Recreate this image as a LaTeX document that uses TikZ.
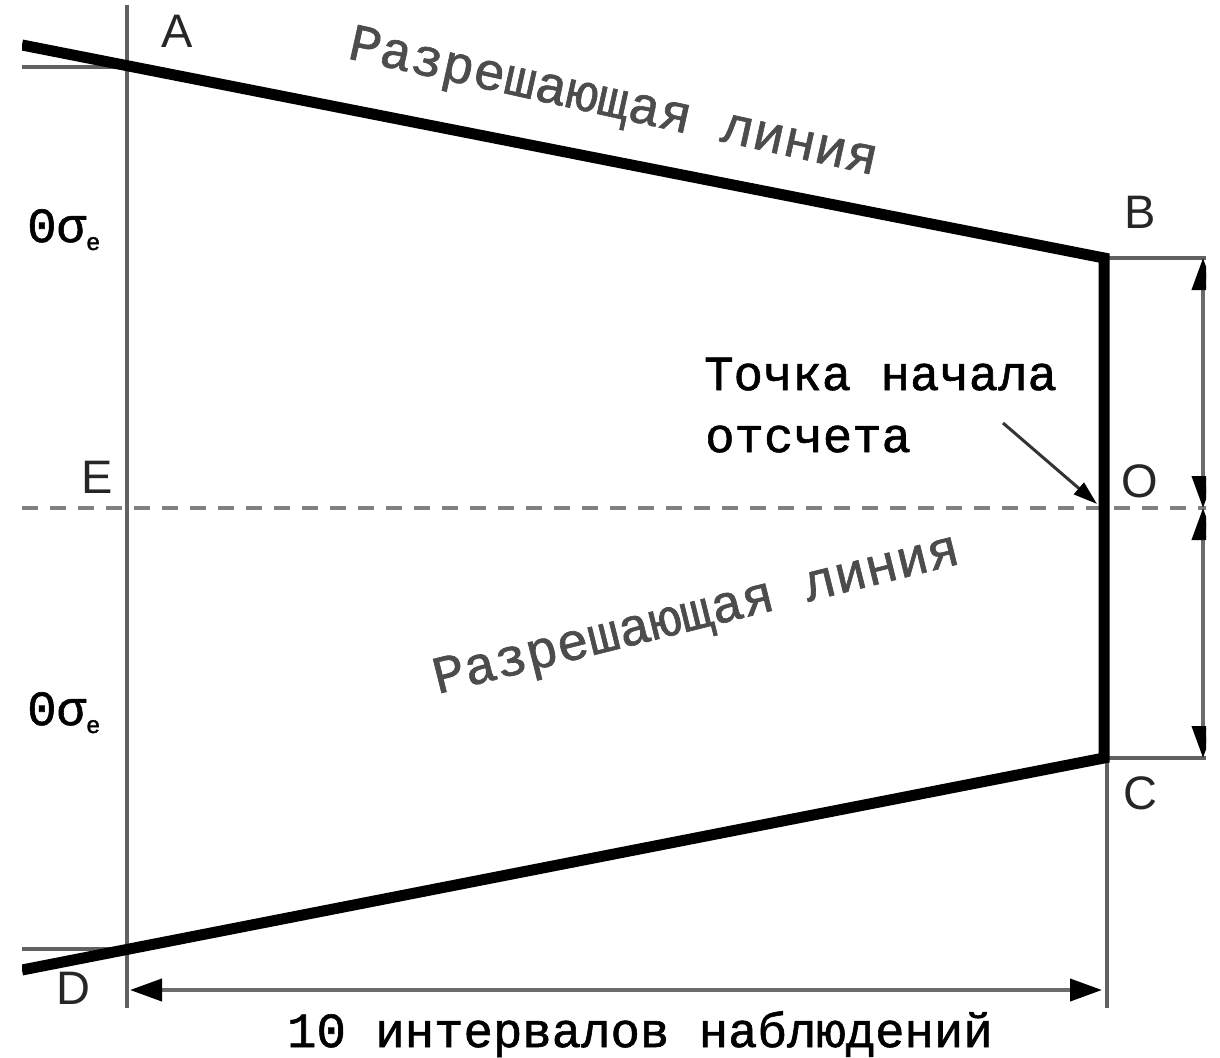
\documentclass[tikz,border=0pt]{standalone}
\usepackage{fontspec}
\newfontfamily\monof[FakeBold=1.2]{Liberation Mono}
\newfontfamily\sansf{Liberation Sans}
\usetikzlibrary{arrows.meta}
\begin{document}
\begin{tikzpicture}[x=1pt,y=-1pt,
  thingray/.style={draw=black!62, line width=3.5pt},
  thickblack/.style={draw=black, line width=11pt, line join=miter},
  lbl/.style={font=\sansf\fontsize{47}{47}\selectfont, text=black!85, inner sep=0pt},
  mono/.style={font=\monof\fontsize{49}{58}\selectfont, inner sep=0pt},
  slanttext/.style={font=\monof\fontsize{53}{60}\selectfont, inner sep=0pt, text=black!70},
  dimarrow/.style={draw=black!58, line width=4pt, {Triangle[length=32pt,width=22pt,color=black]}-{Triangle[length=32pt,width=22pt,color=black]}},
  dashline/.style={draw=black!50, line width=4pt, dash pattern=on 16pt off 12pt}
]
\useasboundingbox (0,0) rectangle (1220,1057);
\fill[white] (0,0) rectangle (1220,1057);

% key points
\coordinate (Aend) at (22,45);
\coordinate (B) at (1104,258);
\coordinate (C) at (1104,758);
\coordinate (Dend) at (22,970);
\coordinate (O) at (1104,508);
\coordinate (Eleft) at (22,508);
\coordinate (Eright) at (1215,508);
\coordinate (Vtop) at (127,5);
\coordinate (Vbot) at (127,1008);
\coordinate (Aleft) at (22,67);
\coordinate (Across) at (127,67);
\coordinate (Dleft) at (22,949);
\coordinate (Dcross) at (127,949);
\coordinate (Rtop) at (1107,258);
\coordinate (Rbot) at (1107,1008);
\coordinate (Bext) at (1206,258);
\coordinate (Cext) at (1206,758);
\coordinate (Ka) at (1203,258);
\coordinate (Ko) at (1203,508);
\coordinate (Kc) at (1203,758);
\coordinate (Hl) at (130,990);
\coordinate (Hr) at (1102,990);
\coordinate (Pstart) at (1003,423);
\coordinate (Ptip) at (1097,504);

\begin{scope}
\clip (22,0) rectangle (1206,1057);
% thin gray construction lines
\draw[thingray] (Vtop) -- (Vbot);
\draw[thingray] (Rtop) -- (Rbot);
\draw[thingray, line width=4pt] (Aleft) -- (Across);
\draw[thingray, line width=4pt] (Dleft) -- (Dcross);
\draw[thingray] (B) -- (Bext);
\draw[thingray] (C) -- (Cext);
% dashed axis
\draw[dashline] (Eleft) -- (Eright);
% resolving lines
\draw[thickblack] (Aend) -- (B) -- (C) -- (Dend);
% dimension arrows
\draw[dimarrow] (Ka) -- (Ko);
\draw[dimarrow] (Ko) -- (Kc);
\draw[dimarrow] (Hl) -- (Hr);
\end{scope}

% pointer to origin
\draw[draw=black!80, line width=3pt, -{Triangle[length=24pt,width=15pt,color=black]}] (Pstart) -- (Ptip);

% letter labels
\node[lbl] (lA) at (177,31) {A};
\node[lbl] (lB) at (1140,212) {B};
\node[lbl] (lC) at (1140,793) {C};
\node[lbl] (lD) at (73,988) {D};
\node[lbl] (lE) at (97,477) {E};
\node[lbl] (lO) at (1140,481) {O};

% sigma labels
\node[mono, anchor=base west] (s1) at (27,242) {0σ\raisebox{-8pt}{\fontsize{24}{24}\selectfont e}};
\node[mono, anchor=base west] (s2) at (27,725) {0σ\raisebox{-8pt}{\fontsize{24}{24}\selectfont e}};

% texts
\node[mono, anchor=base west] (t1) at (704,390) {Точка начала};
\node[mono, anchor=base west] (t2) at (705,452) {отсчета};
\node[mono, anchor=base] (t3) at (640,1047) {10 интервалов наблюдений};
\node[slanttext, rotate=-12.5] (r1) at (613,105) {Разрешающая линия};
\node[slanttext, rotate=14] (r2) at (697,617) {Разрешающая линия};
\end{tikzpicture}
\end{document}
